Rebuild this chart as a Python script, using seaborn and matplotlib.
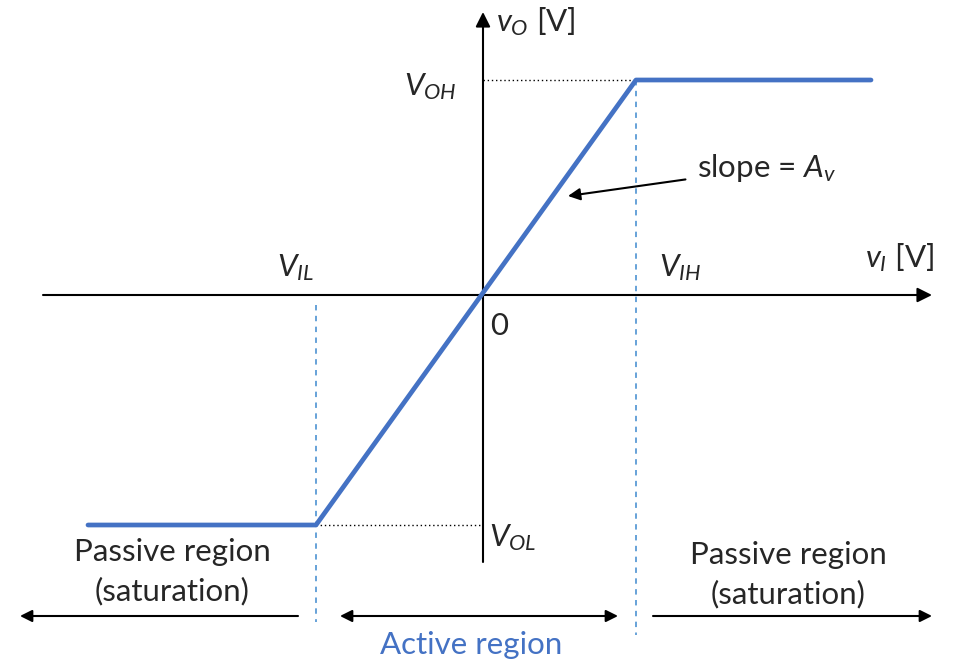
import matplotlib
matplotlib.use("Agg")
import matplotlib.pyplot as plt
import seaborn as sns
import pandas as pd

# Key levels of the transfer characteristic (arbitrary units)
v_in_points = [-3.95, -1.67, 1.53, 3.88]   # start, V_IL, V_IH, end
v_out_points = [-2.30, -2.30, 2.15, 2.15]  # V_OL, V_OL, V_OH, V_OH
V_IL, V_IH = -1.67, 1.53
V_OL, V_OH = -2.30, 2.15

sns.set_style("white")
plt.rcParams['font.family'] = ['Lato', 'DejaVu Sans']
plt.rcParams['mathtext.fontset'] = 'custom'
plt.rcParams['mathtext.it'] = 'Lato:italic'
plt.rcParams['mathtext.rm'] = 'Lato'

BLUE = "#4472C4"
LBLUE = "#5B9BD5"

fig = plt.figure(figsize=(9.64, 6.64), dpi=100)
ax = fig.add_axes([0, 0, 1, 1])
ax.set_xlim(-4.83, 4.81)
ax.set_ylim(-3.69, 2.95)
ax.axis("off")

df = pd.DataFrame({"vI": v_in_points, "vO": v_out_points})
sns.lineplot(data=df, x="vI", y="vO", color=BLUE, lw=3.4, ax=ax, sort=False, zorder=5)

# axes arrows
arrow_kw = dict(arrowstyle="-|>", color="black", lw=1.5, mutation_scale=22,
                shrinkA=0, shrinkB=0)
ax.annotate("", xy=(4.49, 0), xytext=(-4.40, 0), arrowprops=arrow_kw)
ax.annotate("", xy=(0, 2.83), xytext=(0, -2.67), arrowprops=arrow_kw)

# guides
ax.plot([V_IL, V_IL], [-0.10, -3.27], color=LBLUE, lw=1.3, ls=(0, (3, 3)))
ax.plot([V_IH, V_IH], [V_OH, -3.40], color=LBLUE, lw=1.3, ls=(0, (3, 3)))
ax.plot([0, V_IH], [V_OH, V_OH], color="black", lw=1.0, ls=(0, (1, 2)))
ax.plot([V_IL, 0], [V_OL, V_OL], color="black", lw=1.0, ls=(0, (1, 2)))

# region arrows
small = dict(arrowstyle="-|>", color="black", lw=1.5, mutation_scale=18,
             shrinkA=0, shrinkB=0)
ax.annotate("", xy=(-4.63, -3.21), xytext=(-1.85, -3.21), arrowprops=small)
ax.annotate("", xy=(4.49, -3.21), xytext=(1.70, -3.21), arrowprops=small)
ax.annotate("", xy=(-1.43, -3.21), xytext=(1.35, -3.21),
            arrowprops=dict(arrowstyle="<|-|>", color="black", lw=1.5,
                            mutation_scale=18, shrinkA=0, shrinkB=0))

fs = 22.5

# slope annotation
ax.annotate("slope = $A_v$", xy=(0.85, 0.99), xytext=(2.14, 1.27),
            fontsize=fs, va="center", ha="left",
            arrowprops=dict(arrowstyle="-|>", color="black", lw=1.5,
                            mutation_scale=18, shrinkA=6, shrinkB=0))

ax.text(0.13, 2.73, "$v_O$ [V]", fontsize=fs, ha="left", va="center")
ax.text(3.82, 0.37, "$v_I$ [V]", fontsize=fs, ha="left", va="center")
ax.text(-0.79, 2.08, "$V_{OH}$", fontsize=fs, ha="left", va="center")
ax.text(0.06, -2.43, "$V_{OL}$", fontsize=fs, ha="left", va="center")
ax.text(-2.06, 0.27, "$V_{IL}$", fontsize=fs, ha="left", va="center")
ax.text(1.76, 0.27, "$V_{IH}$", fontsize=fs, ha="left", va="center")
ax.text(0.07, -0.31, "0", fontsize=fs, ha="left", va="center")

ax.text(-3.11, -2.77, "Passive region\n(saturation)", fontsize=fs,
        ha="center", va="center", linespacing=1.45)
ax.text(3.05, -2.80, "Passive region\n(saturation)", fontsize=fs,
        ha="center", va="center", linespacing=1.45)
ax.text(-0.12, -3.50, "Active region", fontsize=fs, color=BLUE,
        ha="center", va="center")

fig.savefig("out.png", dpi=100)
